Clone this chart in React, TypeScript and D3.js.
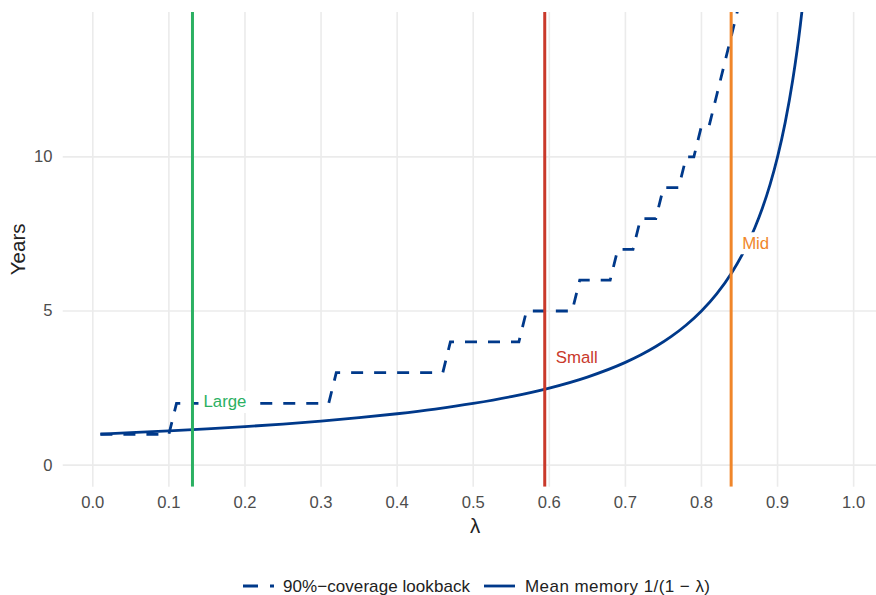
import React from "react";
import * as d3 from "d3";

// ---- data ----
const lookbackLambda = [0.01, 0.10, 0.11, 0.31, 0.32, 0.46, 0.47, 0.56, 0.57, 0.63, 0.64, 0.68, 0.69, 0.71, 0.72, 0.74, 0.75, 0.77, 0.78, 0.79, 0.80, 0.81, 0.82, 0.83, 0.84, 0.85, 0.86];
const lookbackYears = [1, 1, 2, 2, 3, 3, 4, 4, 5, 5, 6, 6, 7, 7, 8, 8, 9, 9, 10, 10, 11, 11, 12, 13, 14, 15, 16];

const memoryLambda = [0.01, 0.05, 0.1, 0.15, 0.2, 0.25, 0.3, 0.35, 0.4, 0.45, 0.5, 0.55, 0.6, 0.65, 0.7, 0.72, 0.74, 0.76, 0.78, 0.8, 0.82, 0.84, 0.86, 0.87, 0.88, 0.89, 0.9, 0.91, 0.92, 0.93, 0.94, 0.95];
const memoryYears = [1.01, 1.053, 1.111, 1.176, 1.25, 1.333, 1.429, 1.538, 1.667, 1.818, 2.0, 2.222, 2.5, 2.857, 3.333, 3.571, 3.846, 4.167, 4.545, 5.0, 5.556, 6.25, 7.143, 7.692, 8.333, 9.091, 10.0, 11.111, 12.5, 14.286, 16.667, 20.0];

const markerNames = ["Large", "Small", "Mid"];
const markerLambda = [0.131, 0.594, 0.839];
const markerLabelY = [2.05, 3.5, 7.2];
const markerColors = ["#2BB062", "#C9392B", "#F0862A"];

const xTicks = [0, 0.1, 0.2, 0.3, 0.4, 0.5, 0.6, 0.7, 0.8, 0.9, 1.0];
const yTicks = [0, 5, 10];

const legendLabels = ["90%\u2212coverage lookback", "Mean memory 1/(1 \u2212 \u03bb)"];

const BLUE = "#00398A";
const FONT = "'Liberation Sans', Arial, Helvetica, sans-serif";

export default function App() {
  const W = 876, H = 595;
  const panel = { left: 62.75, right: 891.3, top: 12, bottom: 486.7 };
  const x = d3.scaleLinear().domain([-0.0395, 1.0495]).range([panel.left, panel.right]);
  const y = d3.scaleLinear().domain([-0.7, 14.7]).range([panel.bottom, panel.top]);

  const lookPts: [number, number][] = lookbackLambda.map((l, i) => [l, lookbackYears[i]]);
  const memPts: [number, number][] = memoryLambda.map((l, i) => [l, memoryYears[i]]);
  const stepLine = d3.line<[number, number]>().x(d => x(d[0])).y(d => y(d[1]));
  const curve = d3.line<[number, number]>().x(d => x(d[0])).y(d => y(d[1])).curve(d3.curveMonotoneX);

  const labelFont = 16.8;
  const labelWidths = markerNames.map(n => {
    const w: Record<string, number> = { L: 0.556, a: 0.556, r: 0.333, g: 0.556, e: 0.556, S: 0.667, m: 0.833, l: 0.222, M: 0.833, i: 0.222, d: 0.556 };
    return n.split("").reduce((s, c) => s + (w[c] ?? 0.556), 0) * labelFont;
  });

  return (
    <svg width={W} height={H} style={{ position: "absolute", left: 0, top: 0, background: "#fff" }} fontFamily={FONT}>
      <defs>
        <clipPath id="panelClip">
          <rect x={panel.left} y={panel.top} width={panel.right - panel.left} height={panel.bottom - panel.top} />
        </clipPath>
      </defs>
      <rect x={0} y={0} width={W} height={H} fill="#fff" />
      {/* grid */}
      <g stroke="#EBEBEB" strokeWidth={1.6}>
        {xTicks.map(t => (
          <line key={"gx" + t} x1={x(t)} x2={x(t)} y1={panel.top} y2={panel.bottom} />
        ))}
        {yTicks.map(t => (
          <line key={"gy" + t} x1={panel.left} x2={panel.right} y1={y(t)} y2={y(t)} />
        ))}
      </g>
      <g clipPath="url(#panelClip)">
        <path d={stepLine(lookPts) || ""} fill="none" stroke={BLUE} strokeWidth={2.8} strokeDasharray="12 11" />
        <path d={curve(memPts) || ""} fill="none" stroke={BLUE} strokeWidth={2.8} />
        {markerLambda.map((l, i) => (
          <line key={"v" + i} x1={x(l)} x2={x(l)} y1={panel.top} y2={panel.bottom} stroke={markerColors[i]} strokeWidth={3} />
        ))}
        {markerLambda.map((l, i) => {
          const tx = x(l) + 11;
          const ty = y(markerLabelY[i]);
          return (
            <g key={"lab" + i}>
              <rect x={tx - 5} y={ty - 11} width={labelWidths[i] + 10} height={22} rx={2.5} fill="#fff" />
              <text x={tx} y={ty} dominantBaseline="central" fontSize={labelFont} fill={markerColors[i]}>{markerNames[i]}</text>
            </g>
          );
        })}
      </g>
      {/* axes labels */}
      <g fontSize={16.6} fill="#4D4D4D">
        {xTicks.map(t => (
          <text key={"tx" + t} x={x(t)} y={502.5} textAnchor="middle" dominantBaseline="central">{d3.format(".1f")(t)}</text>
        ))}
        {yTicks.map(t => (
          <text key={"ty" + t} x={52.5} y={y(t)} textAnchor="end" dominantBaseline="central">{t}</text>
        ))}
      </g>
      <text x={(panel.left + panel.right) / 2 - 2} y={525} textAnchor="middle" dominantBaseline="central" fontSize={20.5} fill="#222">λ</text>
      <text transform={`translate(17,${(panel.top + panel.bottom) / 2}) rotate(-90)`} textAnchor="middle" dominantBaseline="central" fontSize={20.5} fill="#222">Years</text>
      {/* legend */}
      <g>
        <line x1={243} x2={274} y1={586} y2={586} stroke={BLUE} strokeWidth={2.8} strokeDasharray="15 12" />
        <text x={283} y={586} dominantBaseline="central" fontSize={17} fill="#222" textLength={187} lengthAdjust="spacing">{legendLabels[0]}</text>
        <line x1={484} x2={515} y1={586} y2={586} stroke={BLUE} strokeWidth={2.8} />
        <text x={525} y={586} dominantBaseline="central" fontSize={17} fill="#222" textLength={185} lengthAdjust="spacing">{legendLabels[1]}</text>
      </g>
    </svg>
  );
}
